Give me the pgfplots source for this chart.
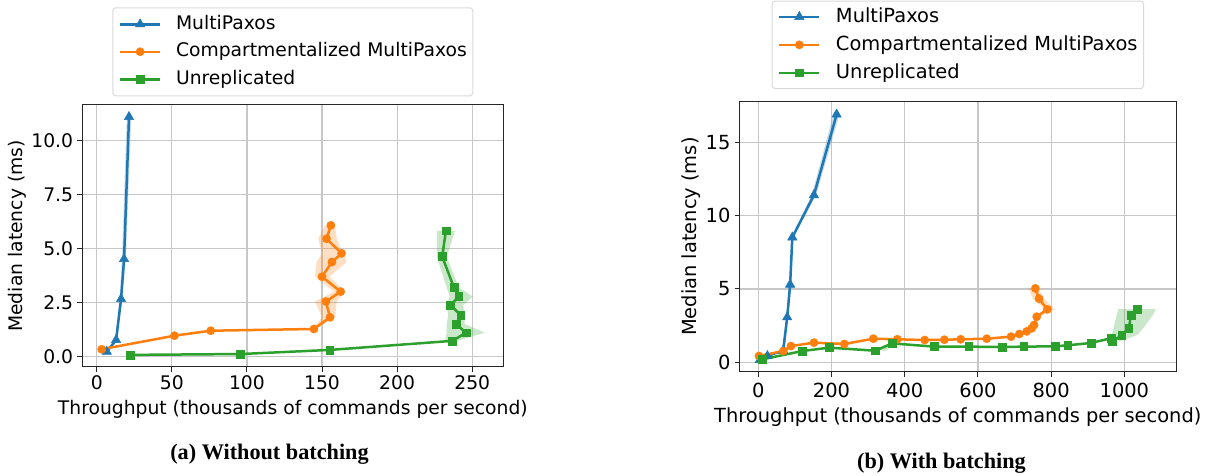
\documentclass[border=0pt]{standalone}
\usepackage{fontspec}
\setmainfont{DejaVu Sans}
\newfontfamily\capfont{Liberation Serif}
\usepackage{pgfplots}
\pgfplotsset{compat=1.18}
\definecolor{tblue}{HTML}{1F77B4}
\definecolor{torange}{HTML}{FF7F0E}
\definecolor{tgreen}{HTML}{2CA02C}
\pgfplotsset{
  mystyle/.style={
    scale only axis,
    axis line style={line width=1bp, black!85},
    grid=major,
    major grid style={line width=1.2bp, black!22},
    tick align=outside,
    tick pos=left,
    major tick length=5bp,
    tick style={line width=1bp, black!85},
    /pgf/number format/assume math mode=true,
    /pgf/number format/1000 sep={},
    legend cell align=left,
    legend image code/.code={\draw[sharp corners,mark repeat=2,mark phase=2,##1] plot coordinates {(0bp,0bp) (20bp,0bp) (40bp,0bp)};},
  },
  sblue/.style={color=tblue, line width=2.5bp, mark=triangle*, mark size=5.4bp, mark options={line width=0.5bp}},
  sorange/.style={color=torange, line width=2.5bp, mark=*, mark size=4.1bp, mark options={line width=0.5bp}},
  sgreen/.style={color=tgreen, line width=2.5bp, mark=square*, mark size=3.9bp, mark options={line width=0.5bp}},
  shade/.style={fill=#1, fill opacity=0.25, draw=none, forget plot},
}
\begin{document}
\begin{tikzpicture}
\path[use as bounding box] (0bp,0bp) rectangle (1209bp,476bp);
% ---------------- (a) Without batching
\begin{axis}[mystyle,
  at={(82.3bp,109bp)}, anchor=south west, width=421bp, height=262bp,
  xmin=-9.6, xmax=270.7, ymin=-0.48, ymax=11.65,
  xtick={0,50,100,150,200,250}, ytick={0,2.5,5,7.5,10},
  tick label style={font=\fontsize{18.8}{20}\selectfont},
  xticklabel style={inner sep=0pt, anchor=north, yshift=-3bp},
  yticklabel style={inner sep=0pt, anchor=east, xshift=-4bp, /pgf/number format/fixed, /pgf/number format/fixed zerofill, /pgf/number format/precision=1},
  label style={font=\fontsize{18.8}{20}\selectfont},
  xlabel={Throughput (thousands of commands per second)},
  ylabel={Median latency (ms)},
  xlabel style={at={(axis description cs:0.5,-0.18)}, anchor=base},
  ylabel style={at={(axis description cs:-0.155,0.5)}, anchor=center},
  legend style={at={(0.5,1.373)}, anchor=north, draw=black!15, line width=1bp, rounded corners=3bp,
    inner xsep=6bp, inner ysep=7.5bp, row sep=9.5bp,
    nodes={inner sep=0pt, text height=14bp, text depth=4bp},
    /tikz/every odd column/.append style={column sep=14.7bp},
    font=\fontsize{18.8}{20}\selectfont},
]
\addplot[shade=tblue] coordinates {(6.2,0.23) (12.2,0.77) (15.3,2.67) (16.8,4.52) (20.0,11.1)
  (23.0,11.1) (19.4,4.52) (17.0,2.67) (13.5,0.77) (7.2,0.23)} -- cycle;
\addplot[shade=torange] coordinates {(2.8,0.34) (51.2,0.97) (75.4,1.2) (143.5,1.28) (150,1.82) (145.3,2.55) (158,3.01) (145.3,3.70) (146.4,4.38) (150,4.78) (147.5,5.46) (152,6.08)
  (158.7,6.08) (159.8,5.46) (164,4.78) (166.4,4.38) (155,3.70) (165.3,3.01) (159.8,2.55) (158.7,1.82) (145.5,1.28) (76.4,1.2) (52.2,0.97) (3.8,0.34)} -- cycle;
\addplot[shade=tgreen] coordinates {(21.7,0.08) (95.2,0.12) (154.6,0.31) (232,0.73) (233,1.11) (233,1.51) (234,1.91) (233,2.39) (235,2.78) (233,3.21) (226.4,4.63) (226.4,5.83)
  (238.6,5.83) (233,4.63) (241,3.21) (250.3,2.78) (244,2.39) (245,1.91) (245,1.51) (258.4,1.11) (240,0.73) (155.6,0.31) (96.2,0.12) (22.7,0.08)} -- cycle;
\addplot[sblue] coordinates {(6.7,0.23) (12.9,0.77) (16.2,2.67) (18.2,4.52) (21.5,11.1)};
\addlegendentry{MultiPaxos}
\addplot[sorange] coordinates {(3.3,0.34) (51.7,0.97) (75.9,1.2) (144.6,1.28) (155.3,1.82) (152.6,2.55) (162.4,3.01) (150,3.70) (156.6,4.38) (163,4.78) (153,5.46) (155.9,6.08)};
\addlegendentry{Compartmentalized MultiPaxos}
\addplot[sgreen] coordinates {(22.2,0.08) (95.7,0.12) (155.1,0.31) (236.9,0.73) (245.8,1.11) (239.2,1.51) (242.4,1.91) (235.6,2.39) (241.1,2.78) (237.8,3.21) (230,4.63) (232.5,5.83)};
\addlegendentry{Unreplicated}
\end{axis}
% ---------------- (b) With batching
\begin{axis}[mystyle,
  at={(739.6bp,104.3bp)}, anchor=south west, width=436.4bp, height=270bp,
  xmin=-51, xmax=1141, ymin=-0.64, ymax=17.77,
  xtick={0,200,400,600,800,1000}, ytick={0,5,10,15},
  tick label style={font=\fontsize{19.5}{21}\selectfont},
  xticklabel style={inner sep=0pt, anchor=north, yshift=-6bp},
  yticklabel style={inner sep=0pt, anchor=east, xshift=-4bp},
  label style={font=\fontsize{19.5}{21}\selectfont},
  xlabel={Throughput (thousands of commands per second)},
  ylabel={Median latency (ms)},
  xlabel style={at={(axis description cs:0.5,-0.19)}, anchor=base},
  ylabel style={at={(axis description cs:-0.111,0.5)}, anchor=center},
  legend style={at={(0.5,1.3745)}, anchor=north, draw=black!15, line width=1bp, rounded corners=3bp,
    inner xsep=6bp, inner ysep=6.5bp, row sep=9.5bp,
    nodes={inner sep=0pt, text height=14.5bp, text depth=4bp},
    /tikz/every odd column/.append style={column sep=15.4bp},
    font=\fontsize{19.5}{21}\selectfont},
]
\addplot[shade=tblue] coordinates {(1,0.16) (22,0.43) (65,0.8) (76,3.07) (84,5.3) (90,8.52) (146,11.4) (205,16.9)
  (222,16.9) (158,11.4) (96,8.52) (90,5.3) (82,3.07) (71,0.8) (28,0.43) (7,0.16)} -- cycle;
\addplot[shade=torange] coordinates {(-2,0.43) (64,0.77) (85,1.11) (148,1.34) (231,1.25) (310,1.61) (376,1.57) (451,1.52) (504,1.54) (549,1.57) (620,1.61) (686,1.75) (709,1.93) (729,2.11) (743,2.32) (749,2.54) (756,3.11) (782,3.61) (750,4.34) (737.7,5.04)
  (765,5.04) (780,4.34) (810.6,3.61) (766,3.11) (758,2.54) (751,2.32) (737,2.11) (717,1.93) (694,1.75) (628,1.61) (557,1.57) (512,1.54) (458,1.52) (384,1.57) (318,1.61) (239,1.25) (156,1.34) (93,1.11) (72,0.77) (6,0.43)} -- cycle;
\addplot[shade=tgreen] coordinates {(8,0.2) (117,0.77) (191,1.0) (316,0.79) (362,1.29) (478,1.07) (572,1.07) (663,1.04) (722,1.07) (808,1.09) (842,1.16) (905,1.32) (950,1.64) (955,1.41) (965,1.86) (970,2.34) (979,3.22) (983,3.63)
  (1086,3.63) (1078,3.22) (1052,2.34) (1035,1.86) (985,1.41) (980,1.64) (913,1.32) (849,1.16) (814,1.09) (728,1.07) (669,1.04) (578,1.07) (484,1.07) (369,1.29) (350,0.79) (197,1.0) (123,0.77) (14,0.2)} -- cycle;
\addplot[sblue] coordinates {(4,0.16) (25,0.43) (68,0.8) (79,3.07) (87,5.3) (93,8.52) (152,11.4) (214,16.9)};
\addlegendentry{MultiPaxos}
\addplot[sorange] coordinates {(1.9,0.43) (68.3,0.77) (89.3,1.11) (152.2,1.34) (235,1.25) (314.2,1.61) (379.8,1.57) (454.6,1.52) (508.2,1.54) (553,1.57) (624,1.61) (690.4,1.75) (713.1,1.93) (733.3,2.11) (746.9,2.32) (753.3,2.54) (760.6,3.11) (789.6,3.61) (766.9,4.34) (756.8,5.04)};
\addlegendentry{Compartmentalized MultiPaxos}
\addplot[sgreen] coordinates {(11,0.2) (120.2,0.77) (194,1.0) (319.7,0.79) (365.3,1.29) (481,1.07) (574.9,1.07) (665.8,1.04) (725.1,1.07) (810.7,1.09) (845.4,1.16) (909,1.32) (963.7,1.64) (967.9,1.41) (992.9,1.86) (1012,2.34) (1018.3,3.22) (1035.5,3.63)};
\addlegendentry{Unreplicated}
\end{axis}
\node[anchor=base, font=\capfont\bfseries\fontsize{22.3}{24}\selectfont] at (269.5bp,16.7bp) {(a) Without batching};
\node[anchor=base, font=\capfont\bfseries\fontsize{22.3}{24}\selectfont] at (941.5bp,7.7bp) {(b) With batching};
\end{tikzpicture}
\end{document}
